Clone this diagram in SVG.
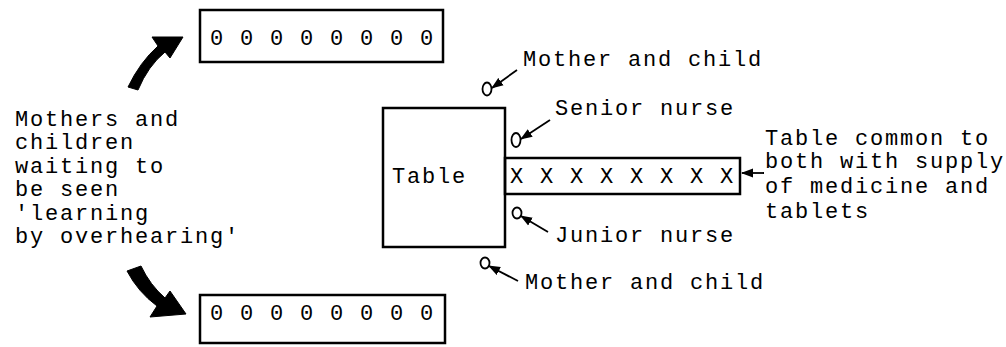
<svg xmlns="http://www.w3.org/2000/svg" width="1006" height="347" viewBox="0 0 1006 347">
<style>
text{font-family:"Liberation Mono","Courier New",monospace;font-size:22px;letter-spacing:1.8px;fill:#000}
.box{fill:none;stroke:#000;stroke-width:2.5}
.p{fill:none;stroke:#000;stroke-width:1.8}
.ln{fill:none;stroke:#000;stroke-width:1.8;marker-end:url(#ah)}
.big{fill:#000;stroke:#000;stroke-width:1}
</style>
<defs>
<marker id="ah" markerUnits="userSpaceOnUse" markerWidth="12" markerHeight="10" viewBox="0 0 12 10" refX="11" refY="5" orient="auto">
<path d="M0,0.5 L12,5 L0,9.5 Z" fill="#000"/>
</marker>
</defs>
<rect width="1006" height="347" fill="#fff"/>

<g id="waiting-top">
<rect class="box" x="200" y="10" width="243" height="52"/>
<text x="210" y="45">0 0 0 0 0 0 0 0</text>
</g>
<g id="waiting-bottom">
<rect class="box" x="200" y="295" width="245" height="48"/>
<text x="210" y="320">0 0 0 0 0 0 0 0</text>
</g>
<g id="waiting-label">
<text x="15" y="126">Mothers and</text>
<text x="15" y="149">children</text>
<text x="15" y="173">waiting to</text>
<text x="15" y="196">be seen</text>
<text x="15" y="220">'learning</text>
<text x="15" y="243">by overhearing'</text>
</g>
<g id="table">
<rect class="box" x="383" y="108" width="122" height="139"/>
<text x="392" y="183">Table</text>
</g>
<g id="common-table">
<rect class="box" x="505" y="158" width="235" height="36"/>
<text x="510" y="183">X X X X X X X X</text>
</g>
<g id="common-label">
<text x="765" y="145">Table common to</text>
<text x="765" y="168">both with supply</text>
<text x="765" y="193">of medicine and</text>
<text x="765" y="218">tablets</text>
</g>
<g id="mother-top">
<ellipse class="p" cx="487" cy="89" rx="4.5" ry="6.5"/>
<text x="523" y="66">Mother and child</text>
</g>
<g id="senior-nurse">
<ellipse class="p" cx="516" cy="140" rx="4.5" ry="7"/>
<text x="555" y="115">Senior nurse</text>
</g>
<g id="junior-nurse">
<ellipse class="p" cx="517" cy="213" rx="4.5" ry="5.5"/>
<text x="555" y="242">Junior nurse</text>
</g>
<g id="mother-bottom">
<ellipse class="p" cx="485" cy="263" rx="4.5" ry="5.5"/>
<text x="525" y="289">Mother and child</text>
</g>

<g id="connectors">
<path class="big" d="M128,87 Q140,62 158,46 L152,37 L183,37 L170,58 L165,52 Q148,66 138,90 Z"/>
<path class="big" d="M127,271 L141,266 Q150,285 165,298 L170,291 L186,314 L150,317 L157,306 Q138,292 127,271 Z"/>
<line class="ln" x1="517" y1="70" x2="492" y2="88"/>
<line class="ln" x1="550" y1="120" x2="521" y2="139"/>
<line class="ln" x1="764" y1="173" x2="742" y2="173"/>
<line class="ln" x1="548" y1="232" x2="521" y2="216"/>
<line class="ln" x1="518" y1="281" x2="489" y2="266"/>
</g>
</svg>
